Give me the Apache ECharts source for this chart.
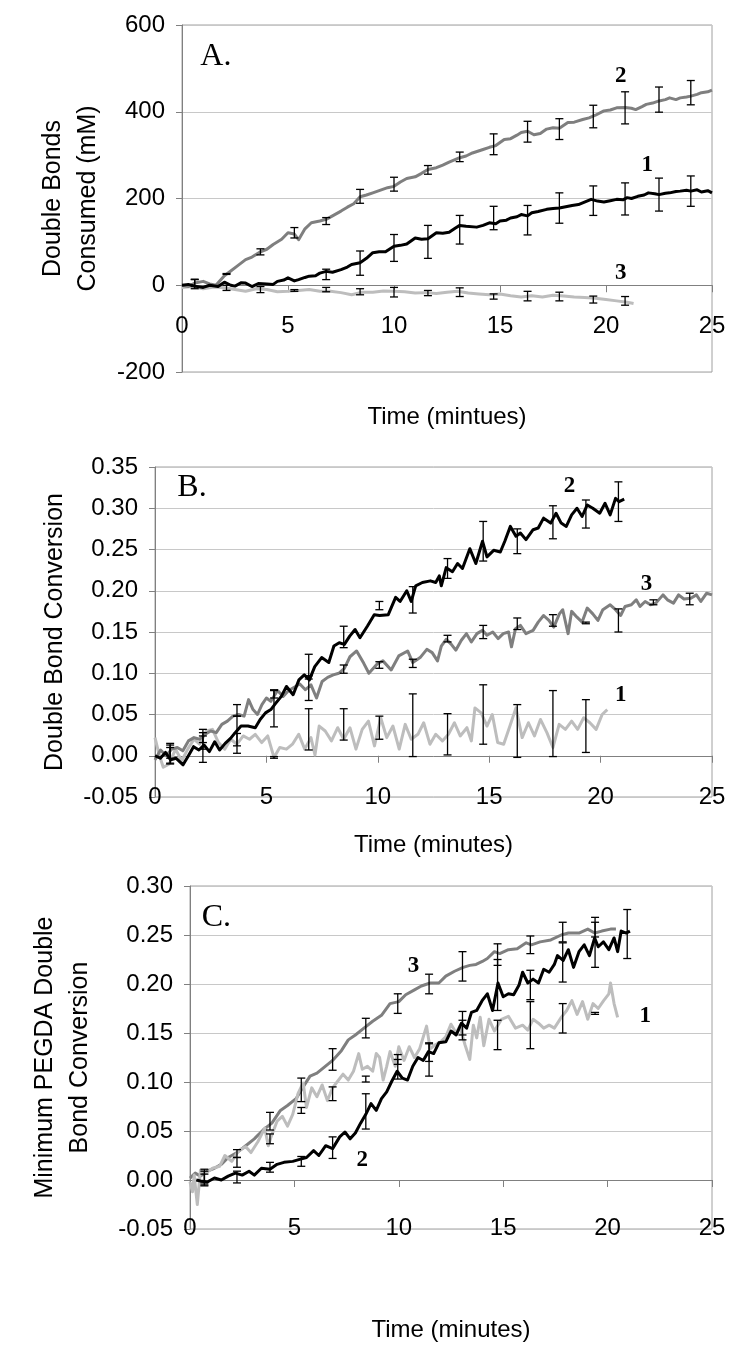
<!DOCTYPE html>
<html><head><meta charset="utf-8">
<script src="https://cdn.jsdelivr.net/npm/echarts@6/dist/echarts.min.js"></script>
<style>html,body{margin:0;padding:0;background:#fff}#c{width:750px;height:1361px}</style>
</head><body><div id="c"></div><script>
// ---------- Panel A: Double bonds consumed (mM) ----------
const A_s2 = [[0,0],[0.3,-3],[0.6,5],[1.0,9],[1.3,3],[1.6,0],[2.0,22],[2.3,33],[2.6,44],[3.0,59],[3.3,65],[3.7,77],[4.0,83],[4.3,94],[4.7,106],[5.0,121],[5.3,118],[5.5,105],[5.8,130],[6.1,144],[6.5,148],[6.8,152],[7.1,160],[7.5,171],[7.8,180],[8.1,188],[8.4,204],[8.7,208],[9.0,213],[9.4,220],[9.7,225],[10.0,228],[10.3,238],[10.6,246],[11.0,250],[11.3,258],[11.6,267],[12.0,271],[12.3,277],[12.6,284],[13.1,294],[13.4,298],[13.7,305],[14.2,313],[14.5,318],[14.8,322],[15.2,336],[15.5,338],[15.8,346],[16.0,352],[16.3,355],[16.6,347],[16.9,350],[17.2,360],[17.5,363],[17.8,362],[18.2,375],[18.5,376],[18.9,382],[19.2,386],[19.5,392],[19.9,402],[20.2,404],[20.5,409],[20.9,410],[21.2,408],[21.4,405],[21.7,412],[21.9,417],[22.2,420],[22.5,425],[22.8,428],[23.0,432],[23.3,428],[23.5,432],[23.8,434],[24.0,436],[24.3,440],[24.5,444],[24.8,446],[25.0,450]];
const A_s1 = [[0,0],[0.3,2],[0.6,-2],[1.0,-5],[1.3,0],[1.7,-3],[2.0,7],[2.3,0],[2.5,-2],[2.8,6],[3.0,5],[3.3,-3],[3.6,4],[4.0,3],[4.3,2],[4.5,9],[4.8,12],[5.0,17],[5.3,10],[5.5,13],[5.8,18],[6.0,21],[6.3,22],[6.5,28],[6.8,32],[7.1,30],[7.5,36],[7.8,42],[8.0,48],[8.4,52],[8.7,62],[9.0,75],[9.3,77],[9.6,77],[10.0,90],[10.3,92],[10.6,95],[11.0,109],[11.3,106],[11.6,107],[12.0,121],[12.3,120],[12.6,122],[12.9,132],[13.1,138],[13.4,136],[13.9,134],[14.2,138],[14.5,144],[14.8,142],[15.0,148],[15.3,150],[15.5,155],[15.8,158],[16.0,163],[16.3,160],[16.5,167],[16.8,170],[17.2,175],[17.5,177],[17.8,178],[18.1,181],[18.4,184],[18.7,186],[18.9,190],[19.3,198],[19.6,194],[19.9,192],[20.2,195],[20.5,198],[20.8,197],[21.0,202],[21.2,200],[21.5,205],[21.8,208],[22.0,213],[22.3,211],[22.5,209],[22.8,212],[23.0,213],[23.3,216],[23.5,217],[23.8,219],[24.0,217],[24.3,220],[24.5,215],[24.8,218],[25.0,213]];
const A_s3 = [[0,-5],[0.5,-3],[1.0,-8],[1.5,-4],[2.0,-6],[2.5,-10],[3.0,-14],[3.5,-8],[4.0,-10],[4.5,-15],[5.0,-14],[5.5,-12],[6.0,-10],[6.5,-14],[7.0,-14],[7.5,-17],[8.0,-22],[8.5,-16],[9.0,-16],[9.5,-13],[10.0,-14],[10.5,-15],[11.0,-18],[11.5,-17],[12.0,-19],[12.5,-16],[13.0,-14],[13.5,-18],[14.0,-20],[14.5,-22],[15.0,-20],[15.5,-24],[16.0,-27],[16.5,-24],[17.0,-27],[17.5,-23],[18.0,-25],[18.5,-27],[19.0,-28],[19.5,-30],[20.0,-33],[20.5,-36],[21.0,-39],[21.3,-42]];
// error bars: [time, centre, half-width]
const A_e2 = [[0.6,5,8],[2.1,26,1],[3.7,77,7],[5.3,121,12],[6.8,148,8],[8.4,205,16],[10.0,233,16],[11.6,266,10],[13.1,296,11],[14.7,325,24],[16.3,354,24],[17.8,360,24],[19.4,389,26],[20.9,409,37],[22.5,428,29],[24.0,444,28]];
const A_e1 = [[0.6,3,11],[6.8,25,12],[8.4,51,28],[10.0,86,31],[11.6,100,38],[13.1,128,33],[14.7,155,27],[16.3,150,34],[17.8,178,35],[19.4,195,34],[20.9,199,37],[22.5,209,38],[24.0,217,35]];
const A_e3 = [[2.1,-6,6],[3.7,-10,7],[5.3,-12,2],[6.8,-10,5],[8.4,-15,7],[10.0,-16,11],[11.6,-18,6],[13.1,-16,10],[14.7,-26,6],[16.3,-25,11],[17.8,-26,10],[19.4,-33,8],[20.9,-36,10]];
const A_text = [[1.6,527,'A.'],[20.7,482,'2'],[21.95,276,'1'],[20.7,28,'3']];

// ---------- Panel B: Double bond conversion ----------
const B_s2 = [[0,0],[0.24,-0.003],[0.47,0.004],[0.7,-0.005],[0.94,-0.003],[1.26,-0.011],[1.5,0],[1.73,0.011],[1.97,0.007],[2.2,0.013],[2.44,0.005],[2.68,0.017],[2.9,0.007],[3.15,0.015],[3.39,0.021],[3.6,0.028],[3.86,0.036],[4.17,0.036],[4.5,0.034],[4.72,0.044],[4.96,0.052],[5.2,0.056],[5.43,0.064],[5.67,0.072],[5.9,0.084],[6.2,0.074],[6.46,0.092],[6.7,0.098],[6.93,0.092],[7.17,0.108],[7.48,0.119],[7.8,0.113],[8.03,0.133],[8.27,0.137],[8.5,0.135],[8.74,0.145],[8.98,0.153],[9.2,0.143],[9.53,0.157],[9.84,0.171],[10.08,0.17],[10.47,0.171],[10.8,0.192],[11.0,0.187],[11.3,0.2],[11.5,0.187],[11.7,0.206],[12.0,0.21],[12.36,0.212],[12.6,0.21],[12.76,0.218],[12.85,0.206],[13.07,0.228],[13.35,0.223],[13.58,0.233],[13.8,0.227],[14.13,0.251],[14.4,0.233],[14.7,0.26],[14.9,0.241],[15.2,0.249],[15.5,0.247],[15.7,0.26],[15.95,0.278],[16.2,0.266],[16.4,0.27],[16.65,0.262],[16.97,0.274],[17.2,0.276],[17.44,0.288],[17.76,0.282],[18.0,0.294],[18.23,0.282],[18.46,0.278],[18.7,0.292],[18.94,0.3],[19.17,0.29],[19.4,0.304],[19.65,0.3],[19.96,0.294],[20.2,0.306],[20.43,0.292],[20.67,0.312],[20.83,0.308],[21.06,0.311]];
const B_s3 = [[0,-0.005],[0.25,0.007],[0.5,0.0],[0.75,0.008],[1.0,0.01],[1.25,0.006],[1.5,0.018],[1.75,0.022],[2.0,0.02],[2.25,0.026],[2.5,0.03],[2.75,0.028],[3.0,0.038],[3.25,0.042],[3.5,0.048],[3.75,0.05],[4.0,0.048],[4.2,0.068],[4.4,0.056],[4.6,0.05],[4.8,0.062],[5.0,0.07],[5.2,0.066],[5.5,0.079],[5.75,0.072],[6.0,0.079],[6.25,0.083],[6.5,0.087],[6.75,0.08],[7.0,0.086],[7.25,0.07],[7.5,0.09],[7.75,0.095],[8.0,0.098],[8.25,0.1],[8.5,0.106],[8.75,0.12],[9.05,0.127],[9.37,0.112],[9.6,0.1],[10.0,0.112],[10.23,0.115],[10.6,0.104],[10.94,0.121],[11.34,0.127],[11.57,0.113],[11.9,0.119],[12.2,0.129],[12.44,0.125],[12.68,0.115],[12.85,0.133],[13.07,0.141],[13.3,0.135],[13.5,0.128],[13.75,0.14],[13.98,0.148],[14.2,0.138],[14.45,0.148],[14.7,0.152],[14.9,0.146],[15.16,0.15],[15.4,0.142],[15.63,0.148],[15.87,0.15],[16.0,0.132],[16.18,0.154],[16.4,0.158],[16.65,0.148],[16.97,0.152],[17.2,0.162],[17.44,0.17],[17.68,0.164],[17.9,0.156],[18.15,0.172],[18.3,0.177],[18.54,0.148],[18.7,0.175],[18.94,0.168],[19.17,0.162],[19.4,0.179],[19.65,0.172],[19.88,0.164],[20.1,0.177],[20.43,0.183],[20.67,0.177],[20.9,0.17],[21.1,0.181],[21.38,0.183],[21.6,0.189],[21.77,0.181],[22.0,0.187],[22.24,0.183],[22.48,0.185],[22.8,0.195],[23.0,0.189],[23.27,0.185],[23.5,0.195],[23.74,0.19],[24.05,0.191],[24.3,0.195],[24.5,0.187],[24.76,0.197],[25.0,0.195]];
const B_s1 = [[0,0.022],[0.18,0.002],[0.37,-0.014],[0.64,-0.01],[0.92,0.008],[1.2,-0.006],[1.47,0.008],[1.75,0.02],[2.0,0.014],[2.3,0.03],[2.58,0.032],[2.85,0.016],[3.13,0.008],[3.4,0.02],[3.68,0.014],[3.96,0.024],[4.24,0.02],[4.5,0.026],[4.79,0.016],[5.06,0.024],[5.34,-0.002],[5.6,0.01],[5.9,0.008],[6.17,0.014],[6.45,0.026],[6.72,0.008],[7.0,0.022],[7.18,0.001],[7.37,0.036],[7.64,0.03],[7.92,0.018],[8.2,0.034],[8.47,0.02],[8.75,0.034],[9.02,0.008],[9.3,0.032],[9.58,0.042],[9.85,0.012],[10.13,0.046],[10.4,0.022],[10.68,0.036],[10.96,0.008],[11.23,0.038],[11.5,0.02],[11.8,0.026],[12.06,0.04],[12.34,0.014],[12.6,0.026],[12.9,0.018],[13.17,0.026],[13.44,0.04],[13.7,0.024],[14.0,0.034],[14.2,0.018],[14.36,0.058],[14.64,0.052],[14.9,0.036],[15.14,0.05],[15.38,0.016],[15.65,0.014],[15.93,0.036],[16.2,0.058],[16.48,0.022],[16.76,0.04],[17.03,0.024],[17.3,0.044],[17.59,0.028],[17.86,0.01],[18.14,0.038],[18.42,0.032],[18.7,0.042],[18.97,0.032],[19.24,0.046],[19.52,0.04],[19.8,0.032],[20.07,0.05],[20.3,0.056]];
const B_e2 = [[0.68,0.003,0.012],[2.15,0.008,0.016],[3.68,0.03,0.018],[5.34,0.057,0.022],[6.9,0.108,0.015],[8.47,0.144,0.013],[10.07,0.182,0.005],[11.57,0.189,0.016],[13.13,0.227,0.012],[14.73,0.26,0.024],[16.26,0.26,0.015],[17.86,0.283,0.02],[19.34,0.293,0.017],[20.8,0.308,0.024]];
const B_e3 = [[0.68,0.005,0.008],[2.15,0.024,0.008],[3.68,0.055,0.007],[5.34,0.075,0.005],[6.9,0.082,0.015],[8.47,0.105,0.005],[10.07,0.11,0.004],[11.57,0.112,0.005],[13.13,0.142,0.004],[14.73,0.15,0.008],[16.26,0.16,0.007],[17.86,0.164,0.007],[19.34,0.161,0.001],[20.8,0.164,0.014],[22.37,0.186,0.003],[24.0,0.19,0.007]];
const B_e1 = [[0.68,0.0,0.01],[2.15,0.018,0.01],[3.68,0.015,0.012],[5.34,-0.002,0.001],[6.9,0.032,0.025],[8.47,0.038,0.019],[10.07,0.034,0.014],[11.57,0.037,0.038],[13.13,0.026,0.025],[14.73,0.05,0.036],[16.26,0.03,0.032],[17.86,0.039,0.04],[19.34,0.036,0.032]];
const B_text = [[1.66,0.325,'B.'],[18.6,0.327,'2'],[22.06,0.208,'3'],[20.9,0.073,'1']];

// ---------- Panel C: Minimum PEGDA double bond conversion ----------
const C_s3 = [[0,0.002],[0.25,0.007],[0.5,0.004],[0.83,0.009],[1.17,0.012],[1.5,0.016],[1.83,0.023],[2.25,0.028],[2.67,0.035],[3.08,0.042],[3.5,0.051],[3.92,0.058],[4.33,0.071],[4.67,0.076],[5.08,0.083],[5.42,0.095],[5.75,0.106],[6.08,0.109],[6.42,0.115],[6.83,0.122],[7.25,0.132],[7.58,0.143],[7.92,0.148],[8.33,0.155],[8.75,0.162],[9.17,0.168],[9.58,0.18],[10.0,0.182],[10.33,0.189],[10.75,0.194],[11.08,0.198],[11.5,0.201],[11.92,0.201],[12.25,0.208],[12.67,0.213],[13.08,0.217],[13.4,0.219],[13.7,0.22],[14.0,0.223],[14.24,0.226],[14.58,0.233],[14.83,0.231],[15.25,0.235],[15.67,0.236],[16.1,0.242],[16.35,0.24],[16.77,0.243],[17.28,0.245],[17.78,0.25],[18.12,0.252],[18.63,0.252],[19.05,0.256],[19.38,0.252],[19.72,0.254],[20.14,0.256],[20.4,0.256]];
const C_s2 = [[0.3,0.0],[0.5,-0.001],[0.83,-0.002],[1.17,0.002],[1.5,0.0],[1.83,0.004],[2.17,0.007],[2.5,0.005],[2.83,0.009],[3.08,0.005],[3.42,0.012],[3.83,0.011],[4.17,0.016],[4.5,0.018],[4.92,0.019],[5.25,0.021],[5.58,0.023],[5.92,0.03],[6.17,0.025],[6.5,0.035],[6.83,0.032],[7.17,0.044],[7.42,0.049],[7.67,0.042],[7.92,0.048],[8.17,0.058],[8.42,0.067],[8.67,0.078],[8.92,0.071],[9.17,0.083],[9.42,0.09],[9.67,0.101],[9.92,0.111],[10.17,0.104],[10.42,0.102],[10.67,0.116],[10.92,0.125],[11.17,0.122],[11.42,0.131],[11.67,0.129],[11.92,0.14],[12.25,0.141],[12.5,0.152],[12.75,0.148],[13.0,0.16],[13.25,0.155],[13.48,0.171],[13.73,0.173],[13.99,0.183],[14.24,0.19],[14.49,0.173],[14.75,0.201],[15.0,0.187],[15.25,0.19],[15.5,0.189],[15.76,0.199],[15.93,0.212],[16.18,0.201],[16.43,0.205],[16.69,0.201],[16.94,0.215],[17.2,0.212],[17.45,0.22],[17.6,0.229],[17.87,0.224],[18.12,0.235],[18.37,0.217],[18.63,0.233],[18.88,0.24],[19.13,0.229],[19.38,0.247],[19.55,0.238],[19.8,0.243],[20.06,0.235],[20.31,0.247],[20.48,0.233],[20.65,0.254],[20.9,0.252],[21.07,0.254]];
const C_s1 = [[0,-0.002],[0.12,-0.012],[0.2,0.005],[0.35,-0.025],[0.5,0.01],[0.75,0.007],[1.08,0.012],[1.42,0.014],[1.67,0.025],[2.0,0.019],[2.33,0.03],[2.67,0.034],[2.92,0.028],[3.25,0.039],[3.58,0.053],[3.75,0.035],[3.9,0.045],[4.17,0.06],[4.42,0.065],[4.67,0.055],[4.92,0.067],[5.17,0.088],[5.42,0.099],[5.58,0.074],[5.83,0.094],[6.08,0.085],[6.33,0.097],[6.58,0.081],[6.83,0.094],[7.08,0.101],[7.33,0.108],[7.58,0.102],[7.83,0.111],[8.08,0.129],[8.25,0.113],[8.5,0.116],[8.75,0.111],[8.92,0.129],[9.08,0.125],[9.25,0.102],[9.42,0.116],[9.58,0.131],[9.83,0.116],[10.0,0.136],[10.25,0.122],[10.5,0.136],[10.75,0.125],[11.0,0.134],[11.33,0.157],[11.5,0.134],[11.75,0.138],[12.0,0.141],[12.25,0.146],[12.5,0.159],[12.75,0.15],[12.92,0.157],[13.17,0.138],[13.4,0.123],[13.57,0.158],[13.73,0.145],[13.9,0.166],[14.07,0.137],[14.32,0.164],[14.58,0.152],[14.92,0.164],[15.25,0.167],[15.59,0.155],[15.93,0.158],[16.18,0.153],[16.43,0.164],[16.69,0.16],[16.94,0.155],[17.2,0.158],[17.45,0.155],[17.78,0.166],[18.04,0.173],[18.29,0.183],[18.54,0.169],[18.8,0.182],[19.05,0.164],[19.3,0.18],[19.55,0.175],[19.81,0.183],[20.06,0.19],[20.14,0.201],[20.31,0.18],[20.48,0.166]];
const C_e3 = [[0.69,0.003,0.008],[2.25,0.027,0.004],[3.83,0.06,0.009],[5.33,0.092,0.012],[6.83,0.123,0.011],[8.42,0.155,0.01],[9.95,0.18,0.01],[11.45,0.2,0.01],[13.05,0.218,0.015],[14.73,0.23,0.011],[16.3,0.24,0.009],[17.85,0.253,0.01],[19.4,0.258,0.01]];
const C_e2 = [[0.69,0.0,0.006],[2.25,0.003,0.006],[3.83,0.013,0.005],[5.33,0.019,0.005],[6.83,0.033,0.011],[8.42,0.07,0.018],[9.95,0.113,0.01],[11.45,0.123,0.017],[13.05,0.16,0.012],[14.73,0.199,0.026],[16.3,0.199,0.015],[17.85,0.222,0.02],[19.4,0.24,0.023],[20.94,0.251,0.025]];
const C_e1 = [[0.69,0.003,0.006],[2.25,0.018,0.005],[3.83,0.042,0.005],[5.33,0.071,0.003],[6.83,0.088,0.007],[8.42,0.103,0.003],[9.95,0.123,0.005],[11.45,0.13,0.009],[13.05,0.153,0.01],[14.73,0.148,0.015],[16.3,0.158,0.024],[17.85,0.165,0.015],[19.4,0.17,0.001]];
const C_text = [[1.26,0.268,'C.'],[10.7,0.218,'3'],[8.25,0.02,'2'],[21.8,0.167,'1']];

// ---------- axis texts and scales ----------
const xNames = ['Time (mintues)', 'Time (minutes)', 'Time (minutes)'];
const yNames = ['Double Bonds\nConsumed (mM)', 'Double Bond Conversion', 'Minimum PEGDA Double\nBond Conversion'];
const yMin = [-200, -0.05, -0.05], yMax = [600, 0.35, 0.30], yStep = [200, 0.05, 0.05];

// ---------- styling ----------
const SANS = '"Liberation Sans", Arial, sans-serif';
const SERIF = '"Liberation Serif", "Times New Roman", serif';
const DARK = '#000000', MID = '#7f7f7f', LIGHT = '#bdbdbd';
const grids = [
  {left:182, top:25, width:530, height:347},
  {left:155, top:467, width:557, height:330},
  {left:190, top:886, width:522, height:343}
];
const xLabelMargin = [29, 30, 36];
const xNameGap = [120, 78, 138];
const yNameGap = [76, 73, 92];
// the time axis crosses the value axis at 0: shift it up from the grid bottom by the value-0 position
const xShift = [0,1,2].map(i => -grids[i].height * (0 - yMin[i]) / (yMax[i] - yMin[i]));

function errItem(params, api){
  const x = api.value(0), y = api.value(1), h = api.value(2);
  const t = api.coord([x, y + h]), b = api.coord([x, y - h]);
  const w = 4, st = {stroke:'#000', lineWidth:1.3};
  return {type:'group', children:[
    {type:'line', shape:{x1:t[0], y1:t[1], x2:b[0], y2:b[1]}, style:st},
    {type:'line', shape:{x1:t[0]-w, y1:t[1], x2:t[0]+w, y2:t[1]}, style:st},
    {type:'line', shape:{x1:b[0]-w, y1:b[1], x2:b[0]+w, y2:b[1]}, style:st}
  ]};
}
function lineS(i, data, color, z){
  return {type:'line', xAxisIndex:i, yAxisIndex:i, data:data, showSymbol:false, symbol:'none',
    lineStyle:{color:color, width:3, join:'round'}, itemStyle:{color:color}, z:z, silent:true};
}
function errS(i, data){
  return {type:'custom', xAxisIndex:i, yAxisIndex:i, data:data, encode:{x:0, y:1},
    renderItem:errItem, z:10, silent:true, clip:false};
}
function textS(i, arr){
  return {type:'custom', xAxisIndex:i, yAxisIndex:i, data:arr.map(a => [a[0], a[1]]), encode:{x:0, y:1},
    clip:false, z:20, silent:true,
    renderItem:function(p, api){
      const c = api.coord([api.value(0), api.value(1)]);
      const t = arr[p.dataIndex][2];
      const isPanel = t.length > 1;
      return {type:'text', x:c[0], y:c[1], style:{text:t,
        font: isPanel ? ('32px ' + SERIF) : ('bold 23px ' + SERIF),
        fill:'#000', align:'center', verticalAlign:'middle'}};
    }};
}

const option = {
  animation:false,
  backgroundColor:'#ffffff',
  grid: grids.map(g => Object.assign({show:true, borderColor:'#a0a0a0', borderWidth:1, backgroundColor:'rgba(0,0,0,0)', containLabel:false}, g)),
  xAxis: [0,1,2].map(i => ({
    type:'value', gridIndex:i, min:0, max:25, interval:5, position:'bottom', offset:xShift[i],
    name:xNames[i], nameLocation:'middle', nameGap:xNameGap[i],
    nameTextStyle:{fontSize:24, fontFamily:SANS, color:'#000'},
    axisLine:{show:true, onZero:false, lineStyle:{color:'#808080', width:1}},
    axisTick:{show:true, length:7, lineStyle:{color:'#808080'}},
    axisLabel:{fontSize:24, fontFamily:SANS, color:'#000', margin:xLabelMargin[i]},
    splitLine:{show:false}
  })),
  yAxis: [0,1,2].map(i => ({
    type:'value', gridIndex:i, min:yMin[i], max:yMax[i], interval:yStep[i],
    name:yNames[i], nameLocation:'middle', nameRotate:90, nameGap:yNameGap[i],
    nameTextStyle:{fontSize:25, lineHeight:35, fontFamily:SANS, color:'#000'},
    axisLine:{show:true, onZero:false, lineStyle:{color:'#808080', width:1}},
    axisTick:{show:true, length:6, lineStyle:{color:'#808080'}},
    axisLabel:{fontSize:24, fontFamily:SANS, color:'#000', margin:17,
      formatter: i === 0 ? (v => String(Math.round(v))) : (v => v.toFixed(2))},
    splitLine:{show:true, lineStyle:{color:'#c8c8c8', width:1}}
  })),
  series: [
    lineS(0, A_s3, LIGHT, 2), lineS(0, A_s2, MID, 3), lineS(0, A_s1, DARK, 4),
    errS(0, A_e3), errS(0, A_e2), errS(0, A_e1), textS(0, A_text),
    lineS(1, B_s1, LIGHT, 2), lineS(1, B_s3, MID, 3), lineS(1, B_s2, DARK, 4),
    errS(1, B_e1), errS(1, B_e3), errS(1, B_e2), textS(1, B_text),
    lineS(2, C_s1, LIGHT, 3), lineS(2, C_s3, MID, 2), lineS(2, C_s2, DARK, 4),
    errS(2, C_e1), errS(2, C_e3), errS(2, C_e2), textS(2, C_text)
  ]
};
const chart = echarts.init(document.getElementById('c'), null, {renderer:'canvas'});
chart.setOption(option);
</script></body></html>
